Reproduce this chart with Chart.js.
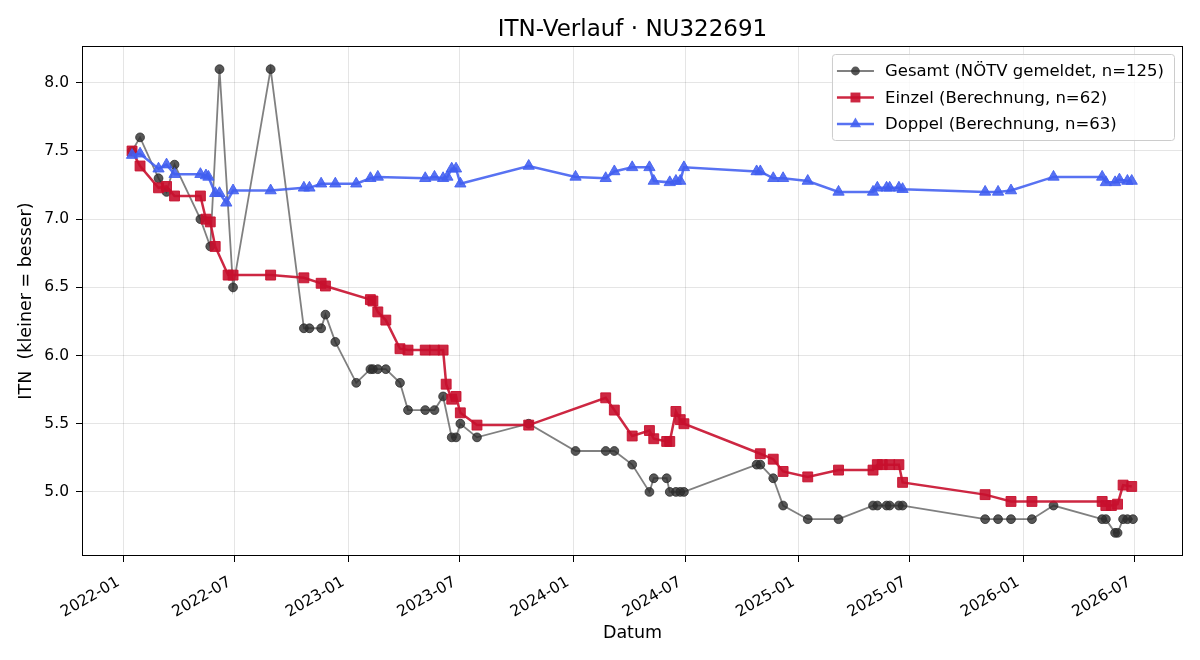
<!DOCTYPE html>
<html>
<head>
<meta charset="utf-8">
<script src="https://cdn.jsdelivr.net/npm/chart.js@4/dist/chart.umd.min.js"></script>
<style>
  html, body { margin: 0; padding: 0; background: #fff; }
  #wrap { width: 1200px; height: 660px; position: relative; }
</style>
</head>
<body>
<div id="wrap"><canvas id="chart-itn"></canvas></div>
<script>
const gesamtDates = ['2022-01-15','2022-01-28','2022-02-27','2022-03-12','2022-03-25','2022-05-06','2022-05-22','2022-06-06','2022-06-28','2022-08-28',
  '2022-10-21','2022-10-30','2022-11-18','2022-11-25','2022-12-11','2023-01-14','2023-02-06','2023-02-10','2023-02-18','2023-03-03',
  '2023-03-26','2023-04-08','2023-05-06','2023-05-21','2023-06-04','2023-06-18','2023-06-25','2023-07-02','2023-07-29','2023-10-21',
  '2024-01-05','2024-02-23','2024-03-08','2024-04-06','2024-05-04','2024-05-11','2024-06-01','2024-06-06','2024-06-16','2024-06-23',
  '2024-06-29','2024-10-25','2024-10-31','2024-11-21','2024-12-07','2025-01-16','2025-03-07','2025-05-02','2025-05-09','2025-05-24',
  '2025-05-29','2025-06-13','2025-06-19','2025-10-31','2025-11-21','2025-12-12','2026-01-15','2026-02-19','2026-05-09','2026-05-15',
  '2026-05-30','2026-06-03','2026-06-12','2026-06-19','2026-06-28'];
const gesamtValues = [7.5,7.6,7.3,7.2,7.4,7.0,6.8,8.1,6.5,8.1,
  6.2,6.2,6.2,6.3,6.1,5.8,5.9,5.9,5.9,5.9,
  5.8,5.6,5.6,5.6,5.7,5.4,5.4,5.5,5.4,5.5,
  5.3,5.3,5.3,5.2,5.0,5.1,5.1,5.0,5.0,5.0,
  5.0,5.2,5.2,5.1,4.9,4.8,4.8,4.9,4.9,4.9,
  4.9,4.9,4.9,4.8,4.8,4.8,4.8,4.9,4.8,4.8,
  4.7,4.7,4.8,4.8,4.8];

const einzelDates = ['2022-01-15','2022-01-28','2022-02-27','2022-03-12','2022-03-25','2022-05-06','2022-05-15','2022-05-22','2022-05-30','2022-06-20',
  '2022-06-28','2022-08-28','2022-10-21','2022-11-18','2022-11-25','2023-02-06','2023-02-10','2023-02-18','2023-03-03','2023-03-26',
  '2023-04-08','2023-05-06','2023-05-21','2023-06-04','2023-06-09','2023-06-18','2023-06-25','2023-07-02','2023-07-29','2023-10-21',
  '2024-02-23','2024-03-08','2024-04-06','2024-05-04','2024-05-11','2024-06-01','2024-06-06','2024-06-16','2024-06-23','2024-06-29',
  '2024-10-31','2024-11-21','2024-12-07','2025-01-16','2025-03-07','2025-05-02','2025-05-09','2025-05-17','2025-05-29','2025-06-13',
  '2025-06-19','2025-10-31','2025-12-12','2026-01-15','2026-05-09','2026-05-15','2026-05-24','2026-06-03','2026-06-12','2026-06-26'];
const einzelValues = [7.50,7.39,7.23,7.24,7.17,7.17,7.00,6.98,6.80,6.59,
  6.59,6.59,6.57,6.53,6.51,6.41,6.40,6.32,6.26,6.05,
  6.04,6.04,6.04,6.04,5.79,5.68,5.70,5.58,5.49,5.49,
  5.69,5.60,5.41,5.45,5.39,5.37,5.37,5.59,5.53,5.50,
  5.28,5.24,5.15,5.11,5.16,5.16,5.20,5.20,5.20,5.20,
  5.07,4.98,4.93,4.93,4.93,4.90,4.90,4.91,5.05,5.04];

const doppelDates = ['2022-01-15','2022-01-28','2022-02-27','2022-03-12','2022-03-25','2022-05-06','2022-05-15','2022-05-19','2022-05-30','2022-06-06',
  '2022-06-17','2022-06-28','2022-08-28','2022-10-21','2022-10-30','2022-11-18','2022-12-11','2023-01-14','2023-02-06','2023-02-18',
  '2023-05-06','2023-05-21','2023-06-04','2023-06-11','2023-06-18','2023-06-25','2023-07-02','2023-10-21','2024-01-05','2024-02-23',
  '2024-03-08','2024-04-06','2024-05-04','2024-05-11','2024-06-06','2024-06-16','2024-06-23','2024-06-29','2024-10-25','2024-10-31',
  '2024-11-21','2024-12-07','2025-01-16','2025-03-07','2025-05-02','2025-05-09','2025-05-24','2025-05-29','2025-06-13','2025-06-19',
  '2025-10-31','2025-11-21','2025-12-12','2026-02-19','2026-05-09','2026-05-15','2026-05-30','2026-06-06','2026-06-19','2026-06-26'];
const doppelValues = [7.47,7.48,7.37,7.40,7.33,7.33,7.32,7.31,7.19,7.19,
  7.12,7.21,7.21,7.23,7.23,7.26,7.26,7.26,7.30,7.31,
  7.30,7.31,7.30,7.31,7.37,7.37,7.26,7.39,7.31,7.30,
  7.35,7.38,7.38,7.28,7.27,7.28,7.28,7.38,7.35,7.35,
  7.30,7.30,7.28,7.20,7.20,7.23,7.23,7.23,7.23,7.22,
  7.20,7.20,7.21,7.31,7.31,7.27,7.27,7.29,7.28,7.28];

const seriesLabels = ['Gesamt (NÖTV gemeldet, n=125)', 'Einzel (Berechnung, n=62)', 'Doppel (Berechnung, n=63)'];
const xTickLabels = ['2022-01','2022-07','2023-01','2023-07','2024-01','2024-07','2025-01','2025-07','2026-01','2026-07'];
const yTickValues = [5.0, 5.5, 6.0, 6.5, 7.0, 7.5, 8.0];

const FONT = '"DejaVu Sans", "Liberation Sans", sans-serif';

function toPoints(dates, values) {
    return dates.map((d, i) => ({ x: Date.parse(d), y: values[i] }));
}

// axis limits with 5% margin like matplotlib
const allX = [...gesamtDates, ...einzelDates, ...doppelDates].map(d => Date.parse(d));
const allY = [...gesamtValues, ...einzelValues, ...doppelValues];
const xMin = Math.min(...allX), xMax = Math.max(...allX);
const yMin = Math.min(...allY), yMax = Math.max(...allY);
const xPad = (xMax - xMin) * 0.05, yPad = (yMax - yMin) * 0.05;

const frameAndLegend = {
    id: 'frameAndLegend',
    afterDraw(chart) {
        const ctx = chart.ctx;
        const a = chart.chartArea;
        ctx.save();
        ctx.strokeStyle = '#000';
        ctx.lineWidth = 1;
        ctx.strokeRect(Math.round(a.left) + 0.5, Math.round(a.top) + 0.5,
            Math.round(a.right - a.left) - 1, Math.round(a.bottom - a.top) - 1);

        // legend box, upper right
        ctx.font = '16.5px ' + FONT;
        const sets = chart.data.datasets;
        const textW = Math.max(...sets.map(d => ctx.measureText(d.label).width));
        const w = 53 + textW + 10;
        const rowH = 26.5;
        const h = sets.length * rowH + 6.5;
        const x = a.right - 9 - w;
        const y = a.top + 8;
        ctx.beginPath();
        ctx.roundRect(x + 0.5, y + 0.5, w, h, 3);
        ctx.fillStyle = 'rgba(255,255,255,0.8)';
        ctx.fill();
        ctx.strokeStyle = '#cccccc';
        ctx.stroke();

        sets.forEach((d, i) => {
            const cy = y + 17 + i * rowH;
            ctx.beginPath();
            ctx.moveTo(x + 5, cy);
            ctx.lineTo(x + 42, cy);
            ctx.strokeStyle = d.borderColor;
            ctx.lineWidth = d.borderWidth;
            ctx.stroke();
            const mx = x + 23.5;
            const r = d.pointRadius;
            ctx.fillStyle = d.pointBackgroundColor;
            ctx.beginPath();
            if (d.pointStyle === 'circle') {
                ctx.arc(mx, cy, r, 0, Math.PI * 2);
            } else if (d.pointStyle === 'rect') {
                const s = r * Math.SQRT1_2;
                ctx.rect(mx - s, cy - s, 2 * s, 2 * s);
            } else {
                ctx.moveTo(mx, cy - r);
                ctx.lineTo(mx + r * Math.sin(2 * Math.PI / 3), cy - r * Math.cos(2 * Math.PI / 3));
                ctx.lineTo(mx + r * Math.sin(4 * Math.PI / 3), cy - r * Math.cos(4 * Math.PI / 3));
                ctx.closePath();
            }
            ctx.fill();
            ctx.fillStyle = '#000';
            ctx.textBaseline = 'middle';
            ctx.textAlign = 'left';
            ctx.fillText(d.label, x + 53, cy + 1);
        });
        ctx.restore();
    }
};

const chartObj = document.getElementById('chart-itn');
new Chart(chartObj, {
    type: 'line',
    data: {
        datasets: [{
            label: seriesLabels[0],
            data: toPoints(gesamtDates, gesamtValues),
            order: 3,
            borderColor: 'rgba(60,60,60,0.65)',
            borderWidth: 1.8,
            pointStyle: 'circle',
            pointRadius: 4.4,
            pointBackgroundColor: 'rgba(45,45,45,0.8)',
            pointBorderColor: 'rgba(45,45,45,0.8)',
            pointBorderWidth: 1
        }, {
            label: seriesLabels[1],
            data: toPoints(einzelDates, einzelValues),
            order: 2,
            borderColor: 'rgba(200,16,46,0.9)',
            borderWidth: 2.5,
            pointStyle: 'rect',
            pointRadius: 7,
            pointBackgroundColor: 'rgba(200,16,46,0.9)',
            pointBorderColor: 'rgba(200,16,46,0.9)',
            pointBorderWidth: 1
        }, {
            label: seriesLabels[2],
            data: toPoints(doppelDates, doppelValues),
            order: 1,
            borderColor: 'rgba(65,95,240,0.88)',
            borderWidth: 2.5,
            pointStyle: 'triangle',
            pointRadius: 6.5,
            pointBackgroundColor: 'rgba(65,95,240,0.88)',
            pointBorderColor: 'rgba(65,95,240,0.88)',
            pointBorderWidth: 1
        }]
    },
    options: {
        responsive: true,
        maintainAspectRatio: false,
        animation: false,
        events: [],
        layout: { padding: { left: 0, right: 17, top: 0, bottom: 0 } },
        plugins: {
            legend: { display: false },
            tooltip: { enabled: false },
            title: {
                display: true,
                text: 'ITN-Verlauf · NU322691',
                fullSize: false,
                color: '#000',
                font: { family: FONT, size: 23, weight: 'normal', lineHeight: 1.2 },
                padding: { top: 16.7, bottom: 1.7 }
            }
        },
        scales: {
            x: {
                type: 'linear',
                min: xMin - xPad,
                max: xMax + xPad,
                afterFit: s => { s.height = 104; },
                afterBuildTicks: s => {
                    s.ticks = xTickLabels.map(l => ({ value: Date.parse(l + '-01') }));
                },
                ticks: {
                    color: '#000',
                    font: { family: FONT, size: 15.5 },
                    minRotation: 30,
                    maxRotation: 30,
                    padding: 11,
                    labelOffset: -5,
                    autoSkip: false,
                    callback: v => {
                        const d = new Date(v);
                        return d.getUTCFullYear() + '-' + String(d.getUTCMonth() + 1).padStart(2, '0');
                    }
                },
                grid: { color: 'rgba(0,0,0,0.1)', tickColor: '#000', tickLength: 6, tickWidth: 1 },
                border: { display: false },
                title: {
                    display: true,
                    text: 'Datum',
                    color: '#000',
                    font: { family: FONT, size: 17.5 },
                    padding: { top: 0, bottom: 16.5 }
                }
            },
            y: {
                min: yMin - yPad,
                max: yMax + yPad,
                afterFit: s => { s.width = 82; },
                afterBuildTicks: s => {
                    s.ticks = yTickValues.map(v => ({ value: v }));
                },
                ticks: {
                    color: '#000',
                    font: { family: FONT, size: 15.5 },
                    padding: 7,
                    callback: v => Number(v).toFixed(1)
                },
                grid: { color: 'rgba(0,0,0,0.1)', tickColor: '#000', tickLength: 6, tickWidth: 1 },
                border: { display: false },
                title: {
                    display: true,
                    text: 'ITN  (kleiner = besser)',
                    color: '#000',
                    font: { family: FONT, size: 17.5 },
                    padding: { top: 15.5, bottom: 0 }
                }
            }
        }
    },
    plugins: [frameAndLegend]
});
</script>
</body>
</html>
